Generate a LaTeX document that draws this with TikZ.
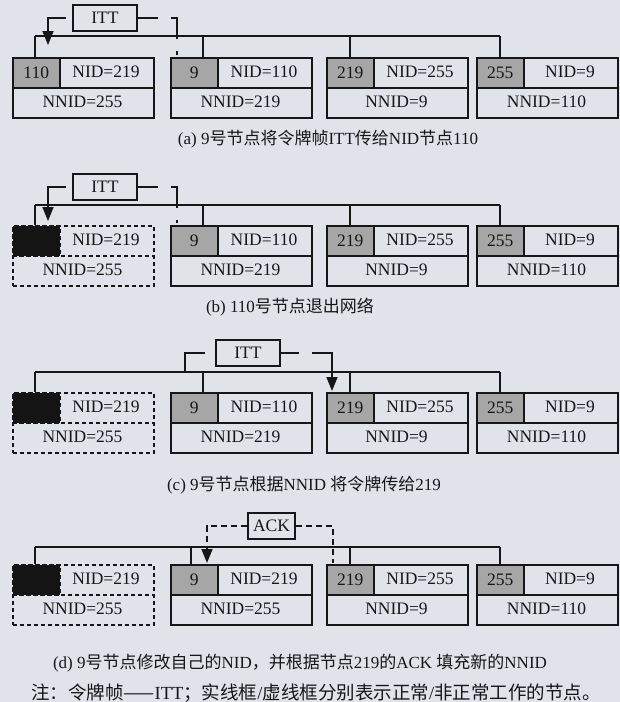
\documentclass[tikz,border=0pt]{standalone}
\usepackage{fontspec}
\setmainfont{Liberation Serif}
\newfontfamily\cjk{Noto Sans CJK SC}
\usetikzlibrary{arrows.meta}
\definecolor{bg}{HTML}{E1E3EA}
\definecolor{idgray}{HTML}{A6A6A6}
\definecolor{ink}{HTML}{161616}
\newcommand\nnfont{\fontsize{17.5}{20}\selectfont}
\newcommand\cpfont{\fontsize{17}{20}\selectfont}
\newcommand\ntfont{\fontsize{18.5}{21}\selectfont}
\tikzset{
  wire/.style={line width=1.6pt, draw=ink},
  livebox/.style={draw=ink, line width=1.6pt, minimum width=141pt, minimum height=60pt, inner sep=0pt},
  deadbox/.style={livebox, dash pattern=on 4pt off 3pt},
  liveline/.style={},
  deadline/.style={dash pattern=on 4pt off 3pt},
  liveid/.style={draw=ink, line width=1.6pt, fill=idgray, minimum width=47pt, minimum height=30pt, inner sep=0pt, font=\nnfont, text=ink},
  deadid/.style={liveid, fill=black!92, dash pattern=on 4pt off 3pt},
  txt/.style={font=\nnfont, text=ink, inner sep=0pt},
  msgbox/.style={draw=ink, line width=1.6pt, minimum width=64pt, minimum height=26pt, inner sep=0pt, font=\nnfont, text=ink},
  capt/.style={font=\cpfont, text=ink, inner sep=0pt},
  tip/.style={-{Triangle[length=14pt,width=11pt]}},
  longdash/.style={dash pattern=on 20pt off 13pt on 27pt off 12pt on 30pt},
  shortdash/.style={dash pattern=on 6pt off 4pt},
}
% name, x, y, id, nid, nnid, state
\newcommand\netnode[7]{%
  \node[#7box, anchor=north west] (#1) at (#2,#3) {};
  \draw[wire, #7line] (#1.west) -- (#1.east);
  \node[#7id, anchor=north west] (#1id) at (#1.north west) {#4};
  \node[txt] (#1nid) at ({#2+94},{#3+15}) {#5};
  \node[txt] (#1nnid) at ({#2+70.5},{#3+45}) {#6};
}
\begin{document}
\begin{tikzpicture}[x=1pt,y=-1pt]
\useasboundingbox (0,0) rectangle (620,702);
\fill[bg] (0,0) rectangle (620,702);

% ---------------- (a)
\netnode{a1}{12}{57}{110}{NID=219}{NNID=255}{live}
\netnode{a2}{170}{57}{9}{NID=110}{NNID=219}{live}
\netnode{a3}{326}{57}{219}{NID=255}{NNID=9}{live}
\netnode{a4}{476}{57}{255}{NID=9}{NNID=110}{live}
\coordinate (aB1) at (35,36);
\coordinate (aB2) at (203,36);
\coordinate (aB3) at (350,36);
\coordinate (aB4) at (500,36);
\draw[wire] (aB1) -- (aB4);
\draw[wire] (aB1) -- (aB1 |- a1.north);
\draw[wire] (aB2) -- (aB2 |- a2.north);
\draw[wire] (aB3) -- (aB3 |- a3.north);
\draw[wire] (aB4) -- (aB4 |- a4.north);
\node[msgbox] (aitt) at (105,18) {ITT};
\coordinate (aarr) at (48,45);
\coordinate (asrc) at (177,55);
\draw[wire, tip, shorten <=6pt] (aitt.west) -| (aarr);
\draw[wire, longdash] (aitt.east) -| (asrc);
\node[capt] (acap) at (328,139) {(a) 9{\cjk 号节点将令牌帧}ITT{\cjk 传给}NID{\cjk 节点}110};

% ---------------- (b)
\netnode{b1}{12}{225}{}{NID=219}{NNID=255}{dead}
\netnode{b2}{170}{225}{9}{NID=110}{NNID=219}{live}
\netnode{b3}{326}{225}{219}{NID=255}{NNID=9}{live}
\netnode{b4}{476}{225}{255}{NID=9}{NNID=110}{live}
\coordinate (bB1) at (35,205);
\coordinate (bB2) at (203,205);
\coordinate (bB3) at (350,205);
\coordinate (bB4) at (500,205);
\draw[wire] (bB1) -- (bB4);
\draw[wire] (bB1) -- (bB1 |- b1.north);
\draw[wire] (bB2) -- (bB2 |- b2.north);
\draw[wire] (bB3) -- (bB3 |- b3.north);
\draw[wire] (bB4) -- (bB4 |- b4.north);
\node[msgbox] (bitt) at (105,187) {ITT};
\coordinate (barr) at (48,221);
\coordinate (bsrc) at (177,223);
\draw[wire, tip, shorten <=6pt] (bitt.west) -| (barr);
\draw[wire, longdash] (bitt.east) -| (bsrc);
\node[capt] (bcap) at (290,307) {(b) 110{\cjk 号节点退出网络}};

% ---------------- (c)
\netnode{c1}{12}{392}{}{NID=219}{NNID=255}{dead}
\netnode{c2}{170}{392}{9}{NID=110}{NNID=219}{live}
\netnode{c3}{326}{392}{219}{NID=255}{NNID=9}{live}
\netnode{c4}{476}{392}{255}{NID=9}{NNID=110}{live}
\coordinate (cB1) at (35,372);
\coordinate (cB2) at (203,372);
\coordinate (cB3) at (350,372);
\coordinate (cB4) at (500,372);
\draw[wire] (cB1) -- (cB4);
\draw[wire] (cB1) -- (cB1 |- c1.north);
\draw[wire] (cB2) -- (cB2 |- c2.north);
\draw[wire] (cB3) -- (cB3 |- c3.north);
\draw[wire] (cB4) -- (cB4 |- c4.north);
\node[msgbox] (citt) at (248,353) {ITT};
\coordinate (cjoin) at (185,372);
\coordinate (carr) at (332,391);
\draw[wire, shorten <=10pt] (citt.west) -| (cjoin);
\draw[wire, tip, dash pattern=on 18pt off 13pt on 200pt] (citt.east) -| (carr);
\node[capt] (ccap) at (304,485) {(c) 9{\cjk 号节点根据}NNID {\cjk 将令牌传给}219};

% ---------------- (d)
\netnode{d1}{12}{564}{}{NID=219}{NNID=255}{dead}
\netnode{d2}{170}{564}{9}{NID=219}{NNID=255}{live}
\netnode{d3}{326}{564}{219}{NID=255}{NNID=9}{live}
\netnode{d4}{476}{564}{255}{NID=9}{NNID=110}{live}
\coordinate (dB1) at (35,547);
\coordinate (dB2) at (191,547);
\coordinate (dB3) at (350,547);
\coordinate (dB4) at (500,547);
\draw[wire] (dB1) -- (dB4);
\draw[wire] (dB1) -- (dB1 |- d1.north);
\draw[wire] (dB2) -- (dB2 |- d2.north);
\draw[wire] (dB3) -- (dB3 |- d3.north);
\draw[wire] (dB4) -- (dB4 |- d4.north);
\node[msgbox, minimum width=47pt] (dack) at (271.5,526) {ACK};
\coordinate (darr) at (207,563);
\coordinate (dsrc) at (333,563);
\draw[wire, tip, shortdash] (dack.west) -| (darr);
\draw[wire, shortdash] (dack.east) -| (dsrc);
\node[capt] (dcap) at (300,663) {(d) 9{\cjk 号节点修改自己的}NID{\cjk ，并根据节点}219{\cjk 的}ACK {\cjk 填充新的}NNID};

\node[capt, font=\ntfont] (note) at (316,693) {{\cjk 注：令牌帧——}ITT{\cjk ；实线框}/{\cjk 虚线框分别表示正常}/{\cjk 非正常工作的节点。}};
\end{tikzpicture}
\end{document}
